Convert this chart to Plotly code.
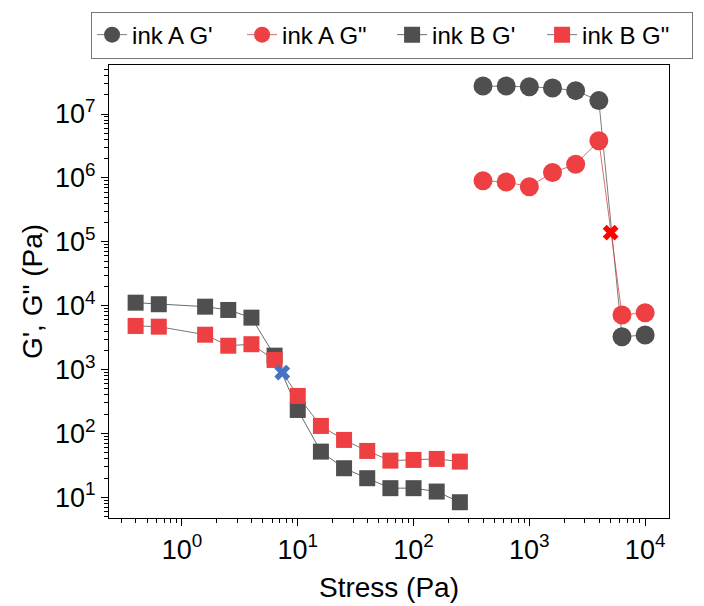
import plotly.graph_objects as go

# ---- data ----
inkA_stress = [398, 631, 1000, 1585, 2512, 3981, 6310, 10000]
inkA_Gp = [2.74e7, 2.74e7, 2.67e7, 2.55e7, 2.32e7, 1.62e7, 3270, 3470]
inkA_Gpp = [9.03e5, 8.63e5, 7.28e5, 1.21e6, 1.63e6, 3.82e6, 7150, 7760]

inkB_stress = [0.398, 0.631, 1.585, 2.512, 3.981, 6.31, 10.0, 15.85, 25.12,
               39.81, 63.1, 100, 158.5, 251.2]
inkB_Gp = [11140, 10520, 9640, 8560, 6490, 1650, 233, 51.9, 28.5, 19.9,
           13.9, 13.9, 12.3, 8.37]
inkB_Gpp = [4810, 4690, 3510, 2360, 2490, 1413, 386, 131, 79.1, 53.2,
            37.5, 38.5, 39.9, 36.2]

crossA = ([5035], [1.39e5])
crossB = ([7.35], [896])

x_decades = [1, 10, 100, 1000, 10000]
x_labels = ["10<sup>0</sup>", "10<sup>1</sup>", "10<sup>2</sup>", "10<sup>3</sup>", "10<sup>4</sup>"]
y_decades = [10, 100, 1e3, 1e4, 1e5, 1e6, 1e7]
y_labels = ["10<sup>1</sup>", "10<sup>2</sup>", "10<sup>3</sup>", "10<sup>4</sup>",
            "10<sup>5</sup>", "10<sup>6</sup>", "10<sup>7</sup>"]

GREY = "#4f4f4f"
RED = "#ee3f42"
FONT = "Arial, Liberation Sans, sans-serif"

fig = go.Figure()
fig.add_trace(go.Scatter(x=inkA_stress, y=inkA_Gp, mode="lines+markers", name="ink A G'",
                         line=dict(color="#5a5a5a", width=0.8),
                         marker=dict(symbol="circle", size=19, color=GREY)))
fig.add_trace(go.Scatter(x=inkA_stress, y=inkA_Gpp, mode="lines+markers", name="ink A G\"",
                         line=dict(color="#d04848", width=0.8),
                         marker=dict(symbol="circle", size=19, color=RED)))
fig.add_trace(go.Scatter(x=inkB_stress, y=inkB_Gp, mode="lines+markers", name="ink B G'",
                         line=dict(color="#444444", width=0.8),
                         marker=dict(symbol="square", size=16, color=GREY)))
fig.add_trace(go.Scatter(x=inkB_stress, y=inkB_Gpp, mode="lines+markers", name="ink B G\"",
                         line=dict(color="#555555", width=0.8),
                         marker=dict(symbol="square", size=16, color=RED)))
fig.add_trace(go.Scatter(x=crossA[0], y=crossA[1], mode="markers", showlegend=False,
                         marker=dict(symbol="x", size=14, color="#ff0000")))
fig.add_trace(go.Scatter(x=crossB[0], y=crossB[1], mode="markers", showlegend=False,
                         marker=dict(symbol="x", size=14, color="#4472c4")))

minor_x = [m * 10 ** e for e in range(-1, 4) for m in range(2, 10) if 0.23 < m * 10 ** e < 16000]
minor_y = [m * 10 ** e for e in range(0, 8) for m in range(2, 10) if 4.7 < m * 10 ** e < 5.9e7]

axis_common = dict(type="log", showgrid=False, zeroline=False, showline=True,
                   linecolor="black", linewidth=1.3, mirror=True, ticks="outside",
                   ticklen=7, tickwidth=1.3, tickcolor="black", automargin=False,
                   tickfont=dict(family=FONT, size=27, color="black"))

fig.update_xaxes(**axis_common, range=[-0.630, 4.206], tickmode="array",
                 tickvals=x_decades, ticktext=x_labels,
                 minor=dict(tickmode="array", tickvals=minor_x, ticks="outside",
                            ticklen=4, tickwidth=1.2, tickcolor="black"),
                 title=dict(text="Stress (Pa)", font=dict(family=FONT, size=28, color="black"),
                            standoff=13))
fig.update_yaxes(**axis_common, range=[0.676, 7.767], tickmode="array",
                 tickvals=y_decades, ticktext=y_labels,
                 minor=dict(tickmode="array", tickvals=minor_y, ticks="outside",
                            ticklen=4, tickwidth=1.2, tickcolor="black"),
                 title=dict(text="G', G\" (Pa)", font=dict(family=FONT, size=28, color="black"),
                            standoff=4))

fig.update_layout(
    width=704, height=606,
    margin=dict(l=109, r=35, t=65, b=88),
    paper_bgcolor="white", plot_bgcolor="white",
    legend=dict(orientation="h", x=-0.032, y=1.118, xanchor="left", yanchor="top",
                bordercolor="#777777", borderwidth=1,
                font=dict(family=FONT, size=24, color="black"),
                itemsizing="trace", entrywidth=105, tracegroupgap=0),
    showlegend=True,
)

fig.write_html("out.html")
